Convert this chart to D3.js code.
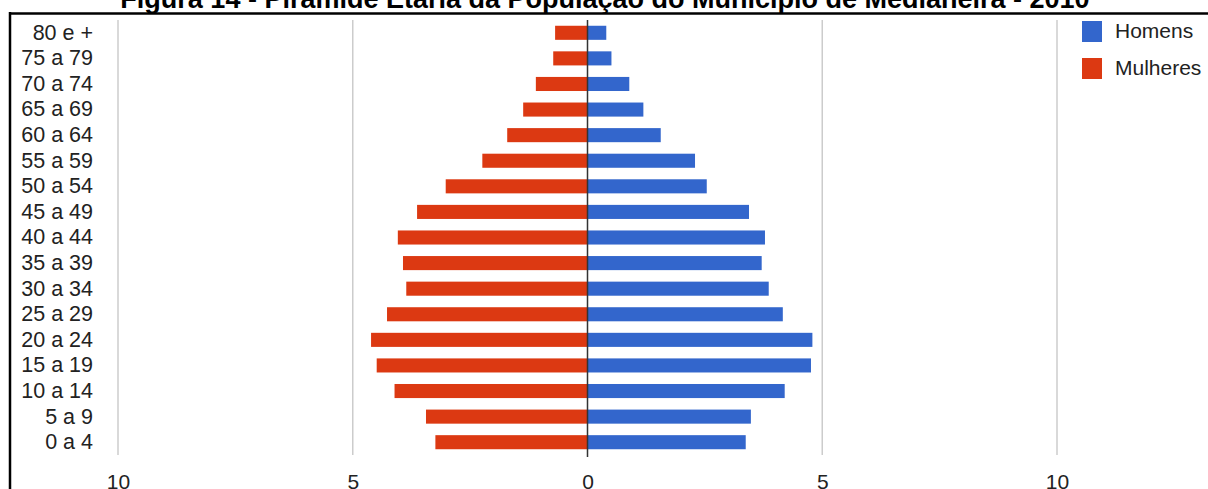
<!DOCTYPE html>
<html>
<head>
<meta charset="utf-8">
<script src="https://cdn.jsdelivr.net/npm/d3@7"></script>
<style>
  body { margin: 0; background: #fff; }
  svg { display: block; font-family: Arial, "Liberation Sans", sans-serif; }
</style>
</head>
<body>
<div id="chart"></div>
<script>
// age groups, top to bottom
const ageGroups = ["80 e +", "75 a 79", "70 a 74", "65 a 69", "60 a 64", "55 a 59", "50 a 54",
    "45 a 49", "40 a 44", "35 a 39", "30 a 34", "25 a 29", "20 a 24", "15 a 19", "10 a 14", "5 a 9", "0 a 4"];
const homens = [0.40, 0.51, 0.89, 1.19, 1.56, 2.29, 2.54, 3.44, 3.78, 3.71, 3.86, 4.16, 4.79, 4.76, 4.20, 3.48, 3.37];
const mulheres = [0.69, 0.73, 1.10, 1.37, 1.71, 2.24, 3.02, 3.63, 4.04, 3.93, 3.86, 4.27, 4.61, 4.49, 4.11, 3.44, 3.24];
const tickValues = [-10, -5, 0, 5, 10];
const seriesNames = ["Homens", "Mulheres"];

const width = 1208, height = 489;
const colors = { Homens: "#3366cc", Mulheres: "#dc3912" };

const svg = d3.select("#chart")
    .append("svg")
    .attr("width", width)
    .attr("height", height);

const x = d3.scaleLinear()
    .domain([-10, 10])
    .range([118, 1057]);

const y = d3.scaleBand()
    .domain(ageGroups)
    .range([20, 455])
    .paddingInner(0.45)
    .paddingOuter(0.225);

// frame lines
svg.append("line")
    .attr("x1", 9).attr("x2", width)
    .attr("y1", 13.5).attr("y2", 13.5)
    .attr("stroke", "#000").attr("stroke-width", 2.5);
svg.append("line")
    .attr("x1", 10).attr("x2", 10)
    .attr("y1", 12).attr("y2", height)
    .attr("stroke", "#000").attr("stroke-width", 2.5);

// title (cut at the top, as in the scan)
svg.append("text")
    .attr("x", 605)
    .attr("y", 8)
    .attr("text-anchor", "middle")
    .style("font-size", "27px")
    .style("font-weight", "bold")
    .style("fill", "#000")
    .text("Figura 14 - Pirâmide Etária da População do Município de Medianeira - 2010");

// gridlines
svg.append("g")
    .selectAll("line")
    .data(tickValues.filter(d => d !== 0))
    .join("line")
    .attr("x1", d => x(d)).attr("x2", d => x(d))
    .attr("y1", 20).attr("y2", 455)
    .attr("stroke", "#cccccc")
    .attr("stroke-width", 1.5);

// x tick labels
const xAxis = d3.axisBottom(x)
    .tickValues(tickValues)
    .tickFormat(d => Math.abs(d))
    .tickSize(0)
    .tickPadding(0);

const gx = svg.append("g")
    .attr("transform", "translate(0,470)")
    .call(xAxis);
gx.select(".domain").remove();
gx.selectAll("text")
    .attr("dy", "0.9em")
    .style("font-size", "21px")
    .style("font-family", "Arial, 'Liberation Sans', sans-serif")
    .style("fill", "#222");

// y labels
const yAxis = d3.axisLeft(y).tickSize(0).tickPadding(0);
const gy = svg.append("g")
    .attr("transform", "translate(93,0)")
    .call(yAxis);
gy.select(".domain").remove();
gy.selectAll("text")
    .style("font-size", "21.5px")
    .style("font-family", "Arial, 'Liberation Sans', sans-serif")
    .style("fill", "#222");

// bars
svg.append("g")
    .selectAll("rect")
    .data(ageGroups)
    .join("rect")
    .attr("x", (d, i) => x(-mulheres[i]))
    .attr("y", d => y(d))
    .attr("width", (d, i) => x(0) - x(-mulheres[i]))
    .attr("height", y.bandwidth())
    .attr("fill", colors.Mulheres);

svg.append("g")
    .selectAll("rect")
    .data(ageGroups)
    .join("rect")
    .attr("x", x(0))
    .attr("y", d => y(d))
    .attr("width", (d, i) => x(homens[i]) - x(0))
    .attr("height", y.bandwidth())
    .attr("fill", colors.Homens);

// zero line
svg.append("line")
    .attr("x1", x(0)).attr("x2", x(0))
    .attr("y1", 20).attr("y2", 457)
    .attr("stroke", "#333")
    .attr("stroke-width", 1.5);

// legend
const legend = svg.append("g")
    .attr("transform", "translate(1082,21)");
seriesNames.forEach((name, i) => {
    legend.append("rect")
        .attr("x", 0)
        .attr("y", i * 37)
        .attr("width", 20)
        .attr("height", 21)
        .attr("fill", colors[name]);
    legend.append("text")
        .attr("x", 33)
        .attr("y", i * 37 + 17)
        .style("font-size", "21px")
        .style("fill", "#222")
        .text(name);
});
</script>
</body>
</html>
